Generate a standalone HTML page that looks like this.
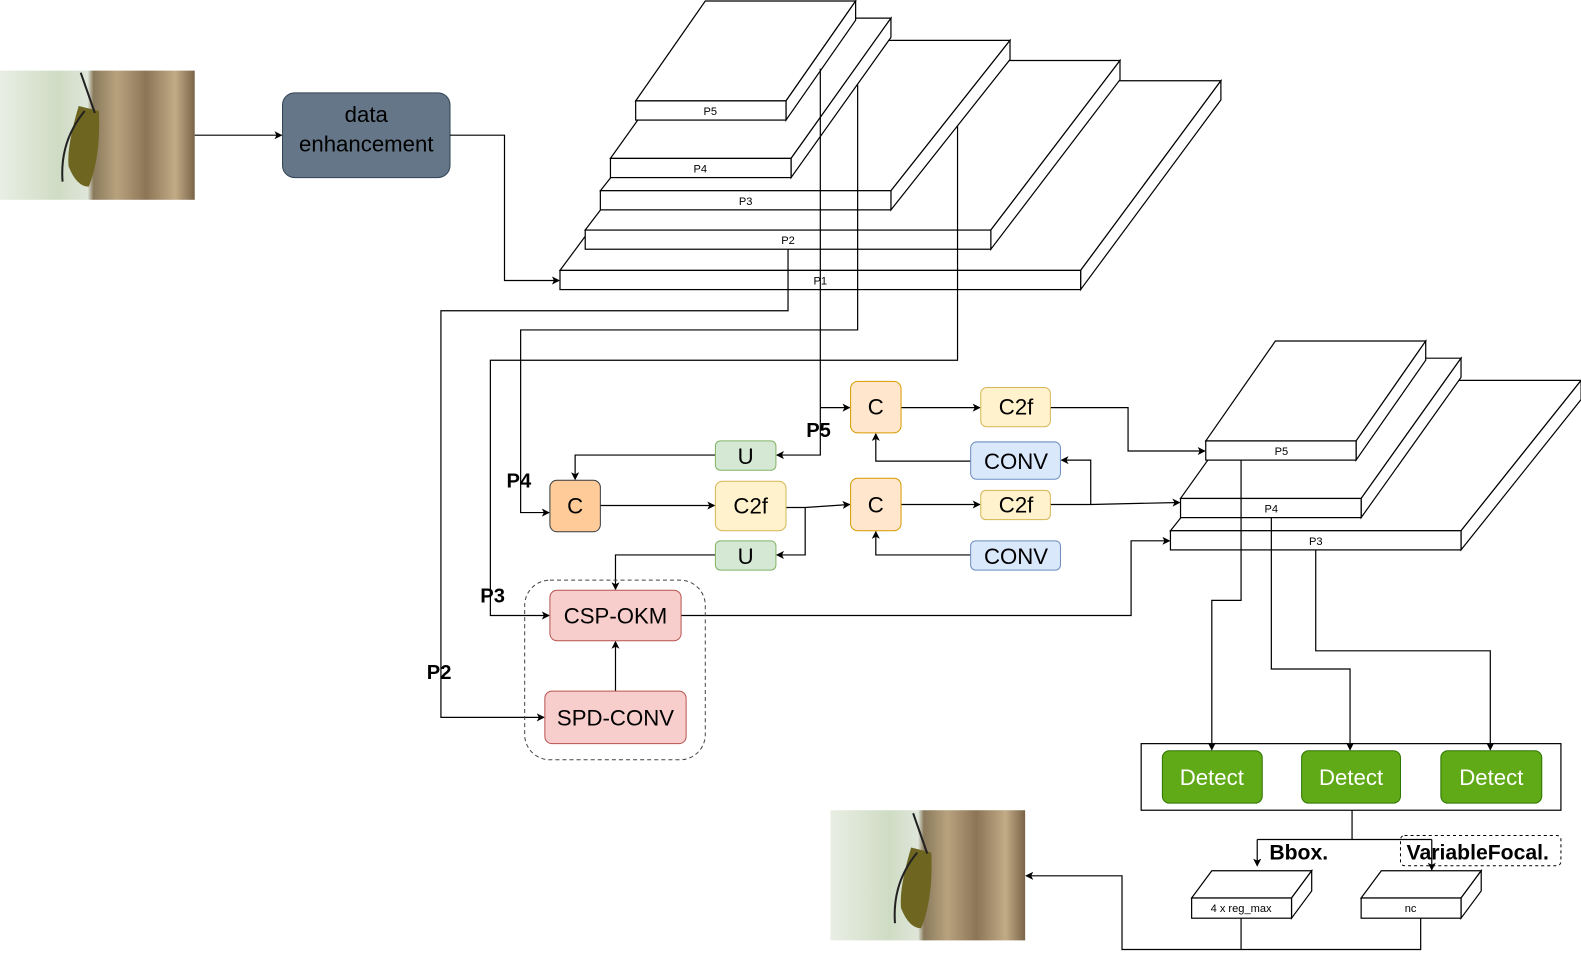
<!DOCTYPE html>
<html><head><meta charset="utf-8"><style>
html,body{margin:0;padding:0;background:#fff;width:1581px;height:960px;overflow:hidden}
svg{display:block}
text{font-family:"Liberation Sans",sans-serif}
</style></head><body>
<svg width="1581" height="960" viewBox="0 0 1581 960" xmlns="http://www.w3.org/2000/svg">
<defs>
<marker id="a" markerWidth="8" markerHeight="8" refX="7" refY="4" orient="auto" markerUnits="userSpaceOnUse"><path d="M0,0 L8,4 L0,8 L2,4 z" fill="#000"/></marker>
<linearGradient id="bg1" x1="0" x2="1" y1="0" y2="0"><stop offset="0" stop-color="#e9eee4"/><stop offset="0.3" stop-color="#cfdcc4"/><stop offset="0.45" stop-color="#dfe6da"/><stop offset="0.48" stop-color="#8a7a5c"/><stop offset="0.6" stop-color="#b8a27e"/><stop offset="0.75" stop-color="#8b7556"/><stop offset="0.9" stop-color="#c2ab86"/><stop offset="1" stop-color="#7a6448"/></linearGradient>
</defs>
<g transform="scale(1.009)">
<rect x="0" y="70" width="193" height="128" fill="url(#bg1)"/>
<path d="M78,105 q-12,40 -10,60 q8,20 20,20 q12,-30 10,-75 z" fill="#6d6520"/>
<path d="M80,72 l14,40 M84,110 q-25,30 -22,70" stroke="#222" stroke-width="2" fill="none"/>
<rect x="823" y="803" width="193" height="129" fill="url(#bg1)"/>
<path d="M903,840 q-12,40 -10,60 q8,20 20,20 q12,-30 10,-75 z" fill="#6d6520"/>
<path d="M905,806 l14,40 M909,845 q-25,30 -22,70" stroke="#222" stroke-width="2" fill="none"/>

<rect x="280" y="92" width="166" height="84" rx="12" fill="#647687" stroke="#314354"/>
<text x="363" y="121" font-size="22" text-anchor="middle">data</text>
<text x="363" y="150" font-size="22" text-anchor="middle">enhancement</text>
<g stroke="#000" stroke-width="1.2" fill="none">
<line x1="193" y1="134" x2="279" y2="134" marker-end="url(#a)"/>
<polyline points="446,134 500,134 500,278 554,278" marker-end="url(#a)"/>
</g>

<g stroke="#000" stroke-width="1.2" fill="#fff">
<polygon points="555,268 694,80 1210,80 1071,268"/><polygon points="1071,268 1210,80 1210,99 1071,287"/><rect x="555" y="268" width="516" height="19"/>
<polygon points="580,228 708,60 1110,60 982,228"/><polygon points="982,228 1110,60 1110,79 982,247"/><rect x="580" y="228" width="402" height="19"/>
<polygon points="595,189 713,40 1001,40 883,189"/><polygon points="883,189 1001,40 1001,59 883,208"/><rect x="595" y="189" width="288" height="19"/>
<polygon points="605,157 704,18 883,18 784,157"/><polygon points="784,157 883,18 883,37 784,176"/><rect x="605" y="157" width="179" height="19"/>
<polygon points="630,100 699,1 848,1 779,100"/><polygon points="779,100 848,1 848,20 779,119"/><rect x="630" y="100" width="149" height="19"/>
</g>
<g font-size="11" text-anchor="middle">
<text x="813" y="282">P1</text><text x="781" y="242">P2</text><text x="739" y="203">P3</text><text x="694" y="171">P4</text><text x="704" y="114">P5</text>
</g>

<g stroke="#000" stroke-width="1.2" fill="#fff">
<polygon points="1160,526 1279,377 1567,377 1448,526"/><polygon points="1448,526 1567,377 1567,396 1448,545"/><rect x="1160" y="526" width="288" height="19"/>
<polygon points="1170,494 1269,355 1448,355 1349,494"/><polygon points="1349,494 1448,355 1448,374 1349,513"/><rect x="1170" y="494" width="179" height="19"/>
<polygon points="1195,437 1264,338 1413,338 1344,437"/><polygon points="1344,437 1413,338 1413,357 1344,456"/><rect x="1195" y="437" width="149" height="19"/>
<polygon points="1181,890 1201,863 1300,863 1280,890"/><polygon points="1280,890 1300,863 1300,883 1280,910"/><rect x="1181" y="890" width="99" height="20"/>
<polygon points="1349,890 1369,863 1468,863 1448,890"/><polygon points="1448,890 1468,863 1468,883 1448,910"/><rect x="1349" y="890" width="99" height="20"/>
</g>
<g font-size="11" text-anchor="middle">
<text x="1304" y="540">P3</text><text x="1260" y="508">P4</text><text x="1270" y="451">P5</text>
<text x="1230" y="904">4 x reg_max</text><text x="1398" y="904">nc</text>
</g>

<g stroke="#000" stroke-width="1.2" fill="none">
<polyline points="781,247 781,308 437,308 437,711 539,711" marker-end="url(#a)"/>
<polyline points="850,84 850,327 516,327 516,508 544,508" marker-end="url(#a)"/>
<polyline points="949,125 949,357 486,357 486,610 544,610" marker-end="url(#a)"/>
<polyline points="813,68 813,451 770,451" marker-end="url(#a)"/>
<polyline points="813,404 842,404" marker-end="url(#a)"/>
<polyline points="709,451 570,451 570,475" marker-end="url(#a)"/>
<line x1="595" y1="501" x2="708" y2="501" marker-end="url(#a)"/>
<polyline points="779,503 798,503 842,500" marker-end="url(#a)"/>
<polyline points="798,503 798,550 770,550" marker-end="url(#a)"/>
<polyline points="709,550 610,550 610,584" marker-end="url(#a)"/>
<line x1="893" y1="500" x2="971" y2="500" marker-end="url(#a)"/>
<polyline points="1041,500 1081,500 1169,498" marker-end="url(#a)"/>
<polyline points="1081,500 1081,456 1052,456" marker-end="url(#a)"/>
<polyline points="962,457 868,457 868,430" marker-end="url(#a)"/>
<line x1="893" y1="404" x2="971" y2="404" marker-end="url(#a)"/>
<polyline points="1041,404 1118,404 1118,447 1194,447" marker-end="url(#a)"/>
<polyline points="962,550 868,550 868,527" marker-end="url(#a)"/>
<polyline points="675,610 1121,610 1121,536 1159,536" marker-end="url(#a)"/>
<line x1="610" y1="685" x2="610" y2="636" marker-end="url(#a)"/>
<polyline points="1230,456 1230,595 1201,595 1201,743" marker-end="url(#a)"/>
<polyline points="1260,513 1260,663 1338,663 1338,743" marker-end="url(#a)"/>
<polyline points="1304,545 1304,645 1477,645 1477,743" marker-end="url(#a)"/>
<polyline points="1340,803 1340,832"/>
<polyline points="1246,832 1419,832"/>
<line x1="1246" y1="832" x2="1246" y2="858" marker-end="url(#a)"/>
<line x1="1419" y1="832" x2="1419" y2="862" marker-end="url(#a)"/>
<polyline points="1230,910 1230,941"/>
<polyline points="1408,910 1408,941 1112,941 1112,868 1017,868" marker-end="url(#a)"/>
</g>
<rect x="520" y="575" width="179" height="178" rx="25" fill="none" stroke="#444" stroke-dasharray="4,3"/>
<rect x="1131" y="737" width="416" height="66" fill="none" stroke="#000" stroke-width="1.2"/>
<rect x="1388" y="828" width="159" height="30" rx="4" fill="none" stroke="#000" stroke-dasharray="3,3"/>

<g font-size="22" text-anchor="middle">
<rect x="843" y="378" width="50" height="51" rx="7" fill="#ffe6cc" stroke="#d79b00"/><text x="868" y="411">C</text>
<rect x="972" y="384" width="69" height="39" rx="6" fill="#fff2cc" stroke="#d6b656"/><text x="1007" y="411">C2f</text>
<rect x="962" y="438" width="89" height="37" rx="6" fill="#dae8fc" stroke="#6c8ebf"/><text x="1007" y="465">CONV</text>
<rect x="709" y="437" width="60" height="29" rx="5" fill="#d5e8d4" stroke="#82b366"/><text x="739" y="460">U</text>
<rect x="545" y="476" width="50" height="51" rx="7" fill="#ffcc99" stroke="#36393d"/><text x="570" y="509">C</text>
<rect x="709" y="477" width="70" height="49" rx="7" fill="#fff2cc" stroke="#d6b656"/><text x="744" y="509">C2f</text>
<rect x="843" y="474" width="50" height="52" rx="7" fill="#ffe6cc" stroke="#d79b00"/><text x="868" y="508">C</text>
<rect x="972" y="486" width="69" height="29" rx="5" fill="#fff2cc" stroke="#d6b656"/><text x="1007" y="508">C2f</text>
<rect x="709" y="536" width="60" height="29" rx="5" fill="#d5e8d4" stroke="#82b366"/><text x="739" y="559">U</text>
<rect x="962" y="536" width="89" height="29" rx="5" fill="#dae8fc" stroke="#6c8ebf"/><text x="1007" y="559">CONV</text>
<rect x="545" y="585" width="130" height="50" rx="7" fill="#f8cecc" stroke="#b85450"/><text x="610" y="618">CSP-OKM</text>
<rect x="540" y="685" width="140" height="52" rx="7" fill="#f8cecc" stroke="#b85450"/><text x="610" y="719">SPD-CONV</text>
</g>
<g font-size="22" text-anchor="middle" fill="#fff">
<rect x="1152" y="744" width="99" height="52" rx="7" fill="#60a917" stroke="#2d7600"/><text x="1201" y="778">Detect</text>
<rect x="1290" y="744" width="98" height="52" rx="7" fill="#60a917" stroke="#2d7600"/><text x="1339" y="778">Detect</text>
<rect x="1428" y="744" width="100" height="52" rx="7" fill="#60a917" stroke="#2d7600"/><text x="1478" y="778">Detect</text>
</g>
<g font-size="20" font-weight="bold">
<text x="799" y="433">P5</text><text x="502" y="483">P4</text><text x="476" y="597">P3</text><text x="423" y="673">P2</text>
<text x="1258" y="852" font-size="21">Bbox.</text><text x="1394" y="852" font-size="21">VariableFocal.</text>
</g>
</g>
</svg>
</body></html>
